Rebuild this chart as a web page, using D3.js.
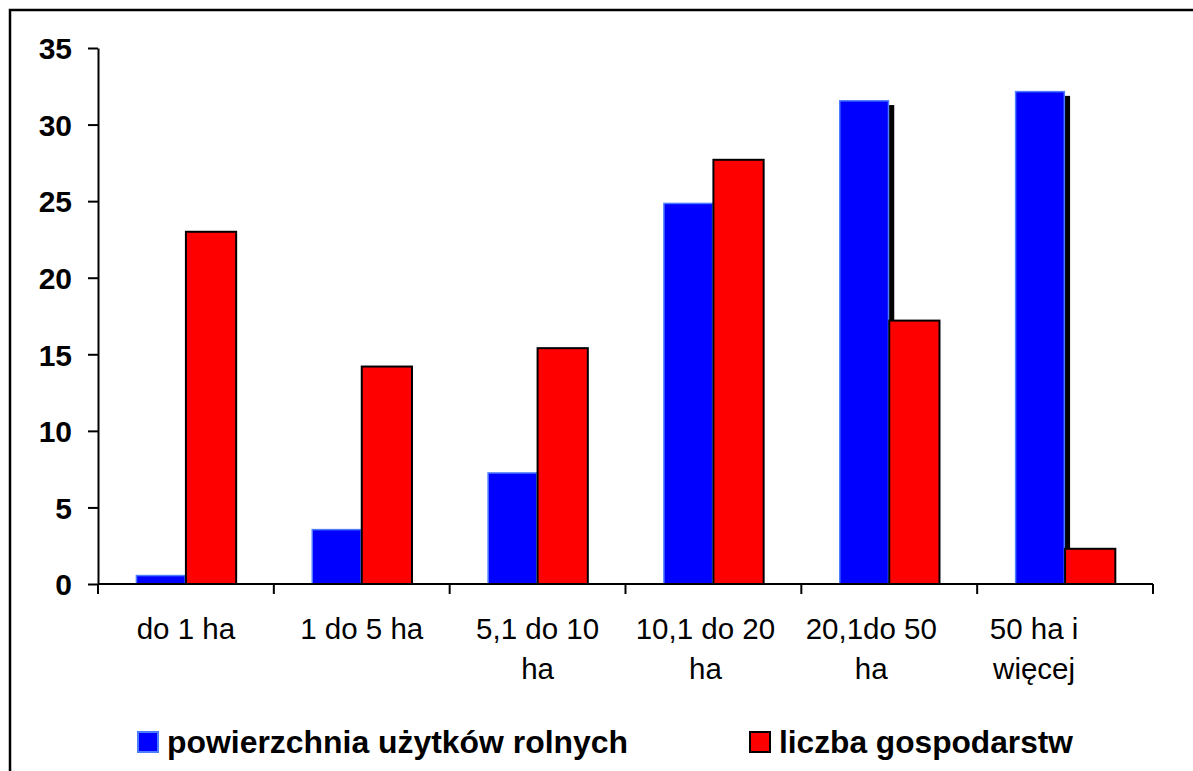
<!DOCTYPE html>
<html>
<head>
<meta charset="utf-8">
<script src="https://cdn.jsdelivr.net/npm/d3@7/dist/d3.min.js"></script>
<style>
  html, body { margin: 0; padding: 0; background: #fff; }
  svg { display: block; font-family: Arial, "Liberation Sans", sans-serif; }
</style>
</head>
<body>
<svg id="chart" width="1193" height="771"></svg>
<script>
// ---- data ----
const categories = ["do 1 ha", "1 do 5 ha", "5,1 do 10\nha", "10,1 do 20\nha", "20,1do 50\nha", "50 ha i\nwięcej"];
const seriesNames = ["powierzchnia użytków rolnych", "liczba gospodarstw"];
const powierzchnia = [0.6, 3.6, 7.3, 24.9, 31.6, 32.2];
const liczba = [23.0, 14.2, 15.4, 27.7, 17.2, 2.3];
const yTicks = [0, 5, 10, 15, 20, 25, 30, 35];

// layout (label nudges as in the original rendering)
const labelShift = [0, 0, 0, -8, -18, -31];

const svg = d3.select("#chart");

// outer frame
svg.append("rect")
  .attr("x", 10).attr("y", 10)
  .attr("width", 1220).attr("height", 800)
  .attr("fill", "none").attr("stroke", "#000").attr("stroke-width", 2.5);

const plotLeft = 98, plotRight = 1153, plotTop = 48, plotBottom = 584;

const x0 = d3.scaleBand()
  .domain(d3.range(categories.length))
  .range([plotLeft, plotRight])
  .paddingInner(1.5 / 3.5)
  .paddingOuter(0.75 / 3.5);

const x1 = d3.scaleBand()
  .domain([0, 1])
  .range([0, x0.bandwidth()]);

const y = d3.scaleLinear().domain([0, 35]).range([plotBottom, plotTop]);

const blue = "#0000FF", blueEdge = "#4D7CFF", red = "#FF0000";

// blue bars with shadow
const g = svg.append("g");
powierzchnia.forEach((v, i) => {
  const bx = x0(i) + x1(0), bw = x1.bandwidth();
  const shadowTop = Math.min(y(v) + 5, plotBottom);
  g.append("rect")
    .attr("x", bx + 5).attr("y", shadowTop)
    .attr("width", bw).attr("height", plotBottom - shadowTop)
    .attr("fill", "#000");
});
powierzchnia.forEach((v, i) => {
  g.append("rect")
    .attr("x", x0(i) + x1(0) + 0.75).attr("y", y(v) + 0.75)
    .attr("width", x1.bandwidth() - 1.5).attr("height", plotBottom - y(v) - 0.75)
    .attr("fill", blue).attr("stroke", blueEdge).attr("stroke-width", 1.5);
});
liczba.forEach((v, i) => {
  g.append("rect")
    .attr("x", x0(i) + x1(1)).attr("y", y(v))
    .attr("width", x1.bandwidth()).attr("height", plotBottom - y(v))
    .attr("fill", red).attr("stroke", "#000").attr("stroke-width", 2);
});

// y axis
const yAxis = svg.append("g")
  .attr("transform", `translate(${plotLeft},0)`)
  .call(d3.axisLeft(y).tickValues(yTicks).tickSize(10).tickSizeOuter(0).tickPadding(16));
yAxis.select(".domain").attr("stroke", "#000").attr("stroke-width", 2);
yAxis.selectAll(".tick line").attr("stroke", "#000").attr("stroke-width", 2);
yAxis.selectAll(".tick text")
  .attr("font-size", 30).attr("font-weight", "bold")
  .attr("font-family", "Arial, 'Liberation Sans', sans-serif")
  .attr("fill", "#000").attr("dy", "0.36em");

// x axis line and boundary ticks
svg.append("line")
  .attr("x1", plotLeft).attr("x2", plotRight)
  .attr("y1", plotBottom).attr("y2", plotBottom)
  .attr("stroke", "#000").attr("stroke-width", 2);
const step = x0.step();
const boundaries = d3.range(categories.length + 1).map(i => plotLeft + i * step);
svg.selectAll(".xtick").data(boundaries).enter().append("line")
  .attr("x1", d => d).attr("x2", d => d)
  .attr("y1", plotBottom).attr("y2", plotBottom + 10)
  .attr("stroke", "#000").attr("stroke-width", 2);

// category labels
categories.forEach((c, i) => {
  const cx = x0(i) + x0.bandwidth() / 2 + labelShift[i];
  const t = svg.append("text")
    .attr("x", cx).attr("y", plotBottom + 55)
    .attr("text-anchor", "middle")
    .attr("font-size", 29.5).attr("fill", "#000");
  c.split("\n").forEach((line, k) => {
    t.append("tspan").attr("x", cx).attr("dy", k === 0 ? 0 : 39.5).text(line);
  });
});

// legend
const legend = [
  { name: seriesNames[0], fill: blue, stroke: blueEdge, sx: 137, tx: 167, len: 461 },
  { name: seriesNames[1], fill: red, stroke: "#000", sx: 749, tx: 779, len: 294 }
];
legend.forEach(l => {
  svg.append("rect")
    .attr("x", l.sx + 1).attr("y", 732)
    .attr("width", 20).attr("height", 20)
    .attr("fill", l.fill).attr("stroke", l.stroke).attr("stroke-width", 2);
  svg.append("text")
    .attr("x", l.tx).attr("y", 753)
    .attr("font-size", 31).attr("font-weight", "bold").attr("fill", "#000")
    .attr("textLength", l.len).attr("lengthAdjust", "spacingAndGlyphs")
    .text(l.name);
});
</script>
</body>
</html>
